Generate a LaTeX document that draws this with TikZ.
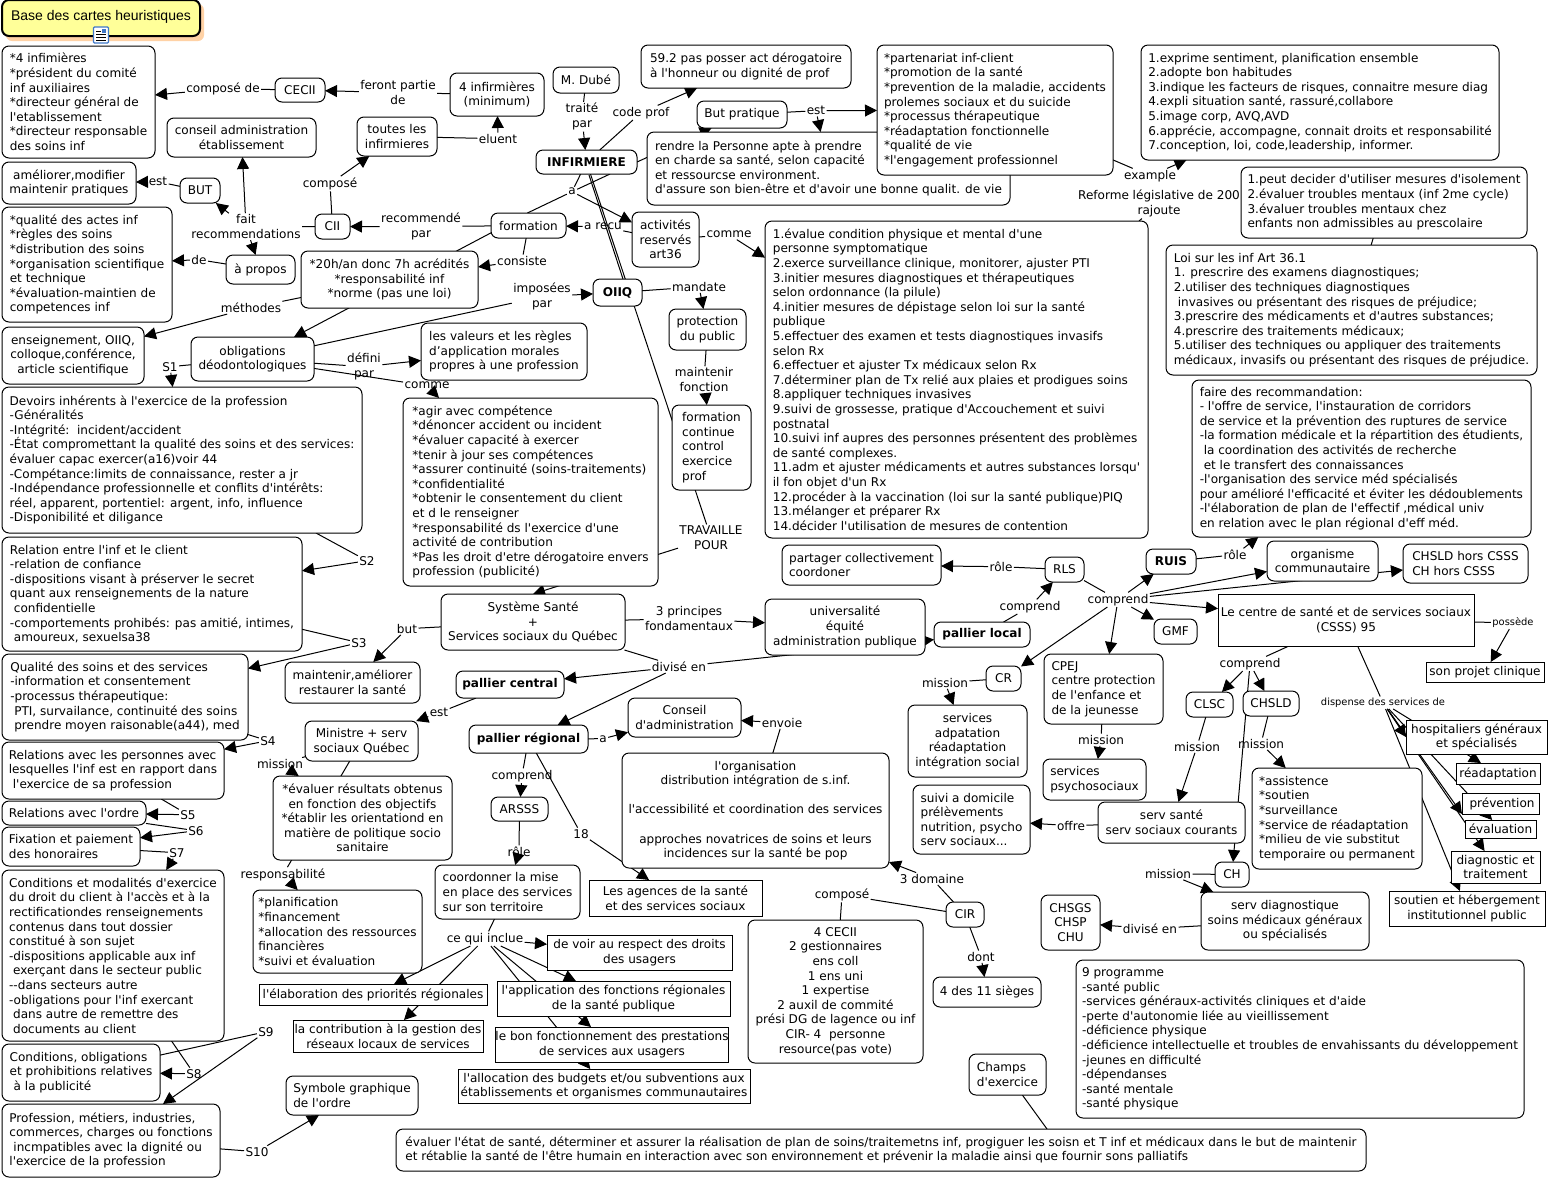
\documentclass[tikz,border=0pt]{standalone}
\usepackage{fontspec}
\usetikzlibrary{arrows.meta,backgrounds}
\newfontfamily\vf{DejaVu Sans}
\newfontfamily\af{Liberation Sans}
\definecolor{titlefill}{HTML}{FFFF99}
\definecolor{titleshadow}{HTML}{FFD2A6}
\definecolor{iconblue}{HTML}{3F78C8}
\tikzset{
  bx/.style n args={4}{at={({(#1+#3)/2},{(#2+#4)/2})},minimum width={#3-#1},minimum height={#4-#2}},
  rb/.style={draw=black,fill=white,line width=1pt,rounded corners=7pt,inner sep=0pt,outer sep=0pt,align=left,font=\vf\fontsize{12.05}{14.6}\selectfont},
  sb/.style={rb,rounded corners=0pt},
  cb/.style={rb,align=center},
  scb/.style={sb,align=center},
  bld/.style={font=\vf\bfseries\fontsize{12.05}{14.6}\selectfont},
  lb/.style={inner sep=1.5pt,outer sep=0pt,align=center,yshift=-0.7pt,font=\vf\fontsize{12.05}{14.6}\selectfont},
  sl/.style={font=\vf\fontsize{9.9}{11.5}\selectfont},
  ln/.style={line width=1pt,draw=black},
  ar/.style={ln,-{Triangle[length=12pt,width=12pt]}}
}
\begin{document}
\begin{tikzpicture}[x=1pt,y=-1pt]
\useasboundingbox (0,0) rectangle (1550,1179);
% ---- title
\fill[titleshadow,rounded corners=6pt] (6,4) rectangle (204,41);
\node[rb,cb,bx={2}{0}{200}{36},line width=2pt,fill=titlefill,font=\af\fontsize{14}{16}\selectfont] (title) {\raisebox{-2pt}[0pt][0pt]{Base des cartes heuristiques}};
\node[draw=iconblue,fill=white,line width=1.2pt,rounded corners=1pt,minimum width=15pt,minimum height=16pt,inner sep=0pt] (icon) at (101,35) {};
\foreach \yy in {-1,2,5}{\draw[line width=.7pt,black] (96,35+\yy) -- (106,35+\yy);}
\draw[line width=.7pt,black] (96,31) -- (101,31);
\fill[iconblue] (102,29) rectangle (106,33);
% ---- boxes
\node[rb,bx={2}{46}{155}{158}] (n4inf) {*4 infimières\\{}*président du comité\\inf auxiliaires\\{}*directeur général de\\l'etablissement\\{}*directeur responsable\\des soins inf};
\node[cb,bx={275}{78}{325}{102}] (cecii) {CECII};
\node[cb,bx={450}{73}{544}{116}] (minim) {4 infirmières\\(minimum)};
\node[cb,bx={167}{118}{316}{157}] (conseil) {conseil administration\\établissement};
\node[cb,bx={357}{117}{437}{156}] (toutes) {toutes les\\infirmieres};
\node[cb,bx={2}{162}{136}{204}] (amelio) {améliorer,modifier\\maintenir pratiques};
\node[cb,bx={180}{178}{220}{203}] (butn) {BUT};
\node[rb,bx={2}{207}{172}{322}] (qualite) {*qualité des actes inf\\{}*règles des soins\\{}*distribution des soins\\{}*organisation scientifique\\et technique\\{}*évaluation-maintien de\\competences inf};
\node[cb,bx={315}{214}{350}{239}] (cii) {CII};
\node[cb,bx={491}{213}{566}{238}] (formation) {formation};
\node[cb,bx={226}{255}{295}{284}] (apropos) {à propos};
\node[cb,bx={301}{251}{478}{308}] (h20) {*20h/an donc 7h acrédités\\{}*responsabilité inf\\{}*norme (pas une loi)};
\node[cb,bx={2}{327}{144}{384}] (ens) {enseignement, OIIQ,\\colloque,conférence,\\article scientifique};
\node[cb,bx={191}{337}{314}{381}] (oblig) {obligations\\déodontologiques};
\node[rb,bx={421}{323}{587}{380}] (valeurs) {les valeurs et les règles\\d’application morales\\propres à une profession};
\node[rb,bx={2}{387}{362}{533}] (devoirs) {Devoirs inhérents à l'exercice de la profession\\-Généralités\\-Intégrité:\ \ incident/accident\\-État compromettant la qualité des soins et des services:\\évaluer capac exercer(a16)voir 44\\-Compétance:limits de connaissance, rester a jr\\-Indépendance professionnelle et conflits d'intérêts:\\réel, apparent, portentiel: argent, info, influence\\-Disponibilité et diligance};
\node[rb,bx={2}{537}{302}{651}] (relation) {Relation entre l'inf et le client\\-relation de confiance\\-dispositions visant à préserver le secret\\quant aux renseignements de la nature\\\hspace*{4pt}confidentielle\\-comportements prohibés: pas amitié, intimes,\\\hspace*{4pt}amoureux, sexuelsa38};
\node[rb,bx={2}{654}{248}{740}] (qsoins) {Qualité des soins et des services\\-information et consentement\\-processus thérapeutique:\\\hspace*{4pt}PTI, survailance, continuité des soins\\\hspace*{4pt}prendre moyen raisonable(a44), med};
\node[rb,bx={2}{742}{224}{799}] (relpers) {Relations avec les personnes avec\\lesquelles l'inf est en rapport dans\\\hspace*{4pt}l'exercice de sa profession};
\node[rb,bx={2}{801}{146}{825}] (ordre) {Relations avec l'ordre};
\node[rb,bx={2}{827}{140}{866}] (fixation) {Fixation et paiement\\des honoraires};
\node[rb,bx={2}{870}{224}{1041}] (condit) {Conditions et modalités d'exercice\\du droit du client à l'accès et à la\\rectificationdes renseignements\\contenus dans tout dossier\\constitué à son sujet\\-dispositions applicable aux inf\\\hspace*{4pt}exerçant dans le secteur public\\--dans secteurs autre\\-obligations pour l'inf exercant\\\hspace*{4pt}dans autre de remettre des\\\hspace*{4pt}documents au client};
\node[rb,bx={2}{1044}{160}{1101}] (condpub) {Conditions, obligations\\et prohibitions relatives\\\hspace*{4pt}à la publicité};
\node[rb,bx={2}{1104}{220}{1177}] (profess) {Profession, métiers, industries,\\commerces, charges ou fonctions\\\hspace*{4pt}incmpatibles avec la dignité ou\\l'exercice de la profession};
\node[cb,bx={553}{67}{619}{93}] (dube) {M. Dubé};
\node[cb,bx={536}{150}{637}{174},bld] (inf) {INFIRMIERE};
\node[rb,bx={641}{45}{851}{88}] (art59) {59.2 pas posser act dérogatoire\\à l'honneur ou dignité de prof};
\node[cb,bx={697}{101}{787}{128}] (butpr) {But pratique};
\node[rb,bx={647}{132}{1010}{205}] (rendre) {rendre la Personne apte à prendre\\en charde sa santé, selon capacité\\et ressourcse environment.\\d'assure son bien-être et d'avoir une bonne qualit. de vie};
\node[cb,bx={632}{212}{699}{267}] (activ) {activités\\reservés\\art36};
\node[cb,bx={593}{279}{642}{306},bld] (oiiq) {OIIQ};
\node[cb,bx={669}{309}{746}{350}] (protec) {protection\\du public};
\node[rb,bx={672}{405}{751}{490}] (formcont) {formation\\continue\\control\\exercice\\prof};
\node[rb,bx={765}{221}{1148}{538}] (list14) {1.évalue condition physique et mental d'une\\personne symptomatique\\2.exerce surveillance clinique, monitorer, ajuster PTI\\3.initier mesures diagnostiques et thérapeutiques\\selon ordonnance (la pilule)\\4.initier mesures de dépistage selon loi sur la santé\\publique\\5.effectuer des examen et tests diagnostiques invasifs\\selon Rx\\6.effectuer et ajuster Tx médicaux selon Rx\\7.déterminer plan de Tx relié aux plaies et prodigues soins\\8.appliquer techniques invasives\\9.suivi de grossesse, pratique d'Accouchement et suivi\\postnatal\\10.suivi inf aupres des personnes présentent des problèmes\\de santé complexes.\\11.adm et ajuster médicaments et autres substances lorsqu'\\il fon objet d'un Rx\\12.procéder à la vaccination (loi sur la santé publique)PIQ\\13.mélanger et préparer Rx\\14.décider l'utilisation de mesures de contention};
\node[rb,bx={403}{398}{658}{586}] (agir) {*agir avec compétence\\{}*dénoncer accident ou incident\\{}*évaluer capacité à exercer\\{}*tenir à jour ses compétences\\{}*assurer continuité (soins-traitements)\\{}*confidentialité\\{}*obtenir le consentement du client\\et d le renseigner\\{}*responsabilité ds l'exercice d'une\\activité de contribution\\{}*Pas les droit d'etre dérogatoire envers\\profession (publicité)};
\node[cb,bx={441}{594}{625}{650}] (systeme) {Système Santé\\+\\Services sociaux du Québec};
\node[cb,bx={765}{599}{925}{655}] (univ) {universalité\\équité\\administration publique};
\node[rb,bx={877}{45}{1113}{175}] (parten) {*partenariat inf-client\\{}*promotion de la santé\\{}*prevention de la maladie, accidents\\prolemes sociaux et du suicide\\{}*processus thérapeutique\\{}*réadaptation fonctionnelle\\{}*qualité de vie\\{}*l'engagement professionnel};
\node[rb,bx={1141}{45}{1499}{160}] (exprime) {1.exprime sentiment, planification ensemble\\2.adopte bon habitudes\\3.indique les facteurs de risques, connaitre mesure diag\\4.expli situation santé, rassuré,collabore\\5.image corp, AVQ,AVD\\6.apprécie, accompagne, connait droits et responsabilité\\7.conception, loi, code,leadership, informer.};
\node[rb,bx={1241}{167}{1527}{238}] (peut) {1.peut decider d'utiliser mesures d'isolement\\2.évaluer troubles mentaux (inf 2me cycle)\\3.évaluer troubles mentaux chez\\enfants non admissibles au prescolaire};
\node[rb,bx={1166}{245}{1537}{375}] (loi) {Loi sur les inf Art 36.1\\1. prescrire des examens diagnostiques;\\2.utiliser des techniques diagnostiques\\\hspace*{4pt}invasives ou présentant des risques de préjudice;\\3.prescrire des médicaments et d'autres substances;\\4.prescrire des traitements médicaux;\\5.utiliser des techniques ou appliquer des traitements\\médicaux, invasifs ou présentant des risques de préjudice.};
\node[rb,bx={1192}{380}{1531}{537}] (faire) {faire des recommandation:\\- l'offre de service, l'instauration de corridors\\de service et la prévention des ruptures de service\\-la formation médicale et la répartition des étudients,\\\hspace*{4pt}la coordination des activités de recherche\\\hspace*{4pt}et le transfert des connaissances\\-l'organisation des service méd spécialisés\\pour amélioré l'efficacité et éviter les dédoublements\\-l'élaboration de plan de l'effectif ,médical univ\\en relation avec le plan régional d'eff méd.};
\node[rb,bx={782}{545}{941}{585}] (partager) {partager collectivement\\coordoner};
\node[cb,bx={1045}{557}{1084}{582}] (rls) {RLS};
\node[cb,bx={1146}{549}{1196}{574},bld] (ruis) {RUIS};
\node[cb,bx={1267}{541}{1378}{581}] (organ) {organisme\\communautaire};
\node[rb,bx={1403}{544}{1528}{583}] (hors) {CHSLD hors CSSS\\CH hors CSSS};
\node[scb,bx={1218}{594}{1474}{646}] (csss) {Le centre de santé et de services sociaux\\(CSSS) 95};
\node[cb,bx={1154}{619}{1197}{644}] (gmf) {GMF};
\node[cb,bx={934}{622}{1030}{647},bld] (local) {pallier local};
\node[cb,bx={986}{666}{1021}{691}] (cr) {CR};
\node[rb,bx={1044}{654}{1163}{724}] (cpej) {CPEJ\\centre protection\\de l'enfance et\\de la jeunesse};
\node[cb,bx={908}{705}{1027}{777}] (adapt) {services\\adpatation\\réadaptation\\intégration social};
\node[rb,bx={1043}{759}{1146}{800}] (psycho) {services\\psychosociaux};
\node[cb,bx={1186}{692}{1233}{717}] (clsc) {CLSC};
\node[cb,bx={1243}{691}{1299}{716}] (chsld) {CHSLD};
\node[scb,bx={1426}{662}{1544}{682}] (projet) {son projet clinique};
\node[scb,bx={1406}{720}{1547}{754}] (hosp) {hospitaliers généraux\\et spécialisés};
\node[scb,bx={1456}{763}{1540}{784}] (readapt) {réadaptation};
\node[scb,bx={1462}{793}{1539}{814}] (prevent) {\hspace*{3pt}prévention};
\node[scb,bx={1465}{820}{1536}{838}] (evalu) {évaluation};
\node[scb,bx={1451}{851}{1540}{883}] (diagn) {diagnostic et\\traitement};
\node[scb,bx={1389}{891}{1545}{926}] (soutien) {soutien et hébergement\\institutionnel public};
\node[rb,bx={1252}{768}{1422}{869}] (assist) {*assistence\\{}*soutien\\{}*surveillance\\{}*service de réadaptation\\{}*milieu de vie substitut\\temporaire ou permanent};
\node[rb,bx={913}{785}{1030}{854}] (suivi) {suivi a domicile\\prélèvements\\nutrition, psycho\\serv sociaux...};
\node[cb,bx={1098}{802}{1245}{843}] (sante) {serv santé\\serv sociaux courants};
\node[cb,bx={1215}{862}{1249}{887}] (chn) {CH};
\node[cb,bx={1201}{892}{1369}{950}] (diags) {serv diagnostique\\soins médicaux généraux\\ou spécialisés};
\node[cb,bx={1041}{895}{1100}{950}] (chsgs) {CHSGS\\CHSP\\CHU};
\node[cb,bx={456}{671}{564}{698},bld] (central) {pallier central};
\node[cb,bx={469}{725}{588}{753},bld] (regional) {pallier régional};
\node[cb,bx={628}{698}{741}{737}] (conadm) {Conseil\\d'administration};
\node[cb,bx={305}{721}{418}{761}] (ministre) {Ministre + serv\\sociaux Québec};
\node[cb,bx={285}{662}{420}{703}] (mainten) {maintenir,améliorer\\restaurer la santé};
\node[cb,bx={273}{776}{452}{860}] (evaluer) {*évaluer résultats obtenus\\en fonction des objectifs\\{}*établir les orientationd en\\matière de politique socio\\sanitaire};
\node[cb,bx={622}{753}{889}{868}] (organis) {l'organisation\\distribution intégration de s.inf.\\\mbox{}\\l'accessibilité et coordination des services\\\mbox{}\\approches novatrices de soins et leurs\\incidences sur la santé be pop};
\node[cb,bx={491}{797}{548}{821}] (arsss) {ARSSS};
\node[rb,bx={435}{865}{580}{919}] (coord) {coordonner la mise\\en place des services\\sur son territoire};
\node[scb,bx={589}{880}{762}{916}] (agences) {Les agences de la santé\\et des services sociaux};
\node[cb,bx={946}{902}{984}{927}] (cir) {CIR};
\node[rb,bx={253}{890}{422}{973}] (plan) {*planification\\{}*financement\\{}*allocation des ressources\\financières\\{}*suivi et évaluation};
\node[cb,bx={748}{920}{923}{1063}] (cec4) {4 CECII\\2 gestionnaires\\ens coll\\1 ens uni\\1 expertise\\2 auxil de commité\\prési DG de lagence ou inf\\CIR- 4\ \ personne\\resource(pas vote)};
\node[cb,bx={933}{977}{1041}{1007}] (sieges) {4 des 11 sièges};
\node[scb,bx={547}{935}{732}{970}] (voir) {de voir au respect des droits\\des usagers};
\node[scb,bx={259}{984}{487}{1005}] (elabor) {l'élaboration des priorités régionales};
\node[scb,bx={497}{981}{730}{1016}] (applic) {l'application des fonctions régionales\\de la santé publique};
\node[scb,bx={293}{1020}{483}{1052}] (contrib) {la contribution à la gestion des\\réseaux locaux de services};
\node[scb,bx={497}{1027}{727}{1062}] (bonf) {le bon fonctionnement des prestations\\de services aux usagers};
\node[scb,bx={458}{1069}{750}{1103}] (alloc) {l'allocation des budgets et/ou subventions aux\\établissements et organismes communautaires};
\node[rb,bx={1076}{960}{1524}{1118}] (progr) {9 programme\\-santé public\\-services généraux-activités cliniques et d'aide\\-perte d'autonomie liée au vieillissement\\-déficience physique\\-déficience intellectuelle et troubles de envahissants du développement\\-jeunes en difficulté\\-dépendanses\\-santé mentale\\-santé physique};
\node[rb,bx={969}{1054}{1046}{1095}] (champs) {Champs\\d'exercice};
\node[rb,bx={396}{1129}{1366}{1171}] (etat) {évaluer l'état de santé, déterminer et assurer la réalisation de plan de soins/traitemetns inf, progiguer les soisn et T inf et médicaux dans le but de maintenir\\et rétablie la santé de l'être humain en interaction avec son environnement et prévenir la maladie ainsi que fournir sons palliatifs};
\node[rb,bx={286}{1076}{418}{1115}] (symbole) {Symbole graphique\\de l'ordre};
% ---- labels
\node[lb] (lcomp) at (223,88) {composé de};
\node[lb] (lferont) at (398,92) {feront partie\\de};
\node[lb] (leluent) at (498,138) {eluent};
\node[lb] (ltraite) at (582,116) {traité\\par};
\node[lb] (lcode) at (641,112) {code prof};
\node[lb] (lest1) at (816,110) {est};
\node[lb] (la1) at (572,191) {a};
\node[lb] (larecu) at (603,226) {a recu};
\node[lb] (lcomme1) at (729,234) {comme};
\node[lb] (lcompose) at (330,183) {composé};
\node[lb] (lrecom) at (421,226) {recommendé\\par};
\node[lb] (lfait) at (246,226) {fait\\recommendations};
\node[lb] (lest2) at (158,181) {est};
\node[lb] (lde) at (199,259) {de};
\node[lb] (lcons) at (522,260) {consiste};
\node[lb] (lmeth) at (251,307) {méthodes};
\node[lb] (limpo) at (542,296) {imposées\\par};
\node[lb] (lmand) at (699,286) {mandate};
\node[lb] (lmaint) at (704,379) {maintenir\\fonction};
\node[lb] (ls1) at (170,366) {S1};
\node[lb] (ldef) at (364,366) {défini\\par};
\node[lb] (lcomme2) at (427,385) {comme};
\node[lb] (ls2) at (367,560) {S2};
\node[lb] (ls3) at (359,642) {S3};
\node[lb] (ls4) at (268,740) {S4};
\node[lb] (ls5) at (188,814) {S5};
\node[lb] (ls6) at (196,830) {S6};
\node[lb] (ls7) at (177,852) {S7};
\node[lb] (ls8) at (194,1073) {S8};
\node[lb] (ls9) at (266,1031) {S9};
\node[lb] (ls10) at (257,1151) {S10};
\node[lb] (lbut) at (407,628) {but};
\node[lb] (ltrois) at (689,618) {3 principes\\fondamentaux};
\node[lb] (ldiv) at (679,666) {divisé en};
\node[lb] (lest3) at (439,712) {est};
\node[lb] (la2) at (603,738) {a};
\node[lb] (lenv) at (782,722) {envoie};
\node[lb] (lcompr1) at (522,775) {comprend};
\node[lb] (l18) at (581,833) {18};
\node[lb] (lrole1) at (519,851) {rôle};
\node[lb] (lmiss1) at (280,763) {mission};
\node[lb] (lresp) at (283,874) {responsabilité};
\node[lb] (lceq) at (485,938) {ce qui inclue};
\node[lb] (lcompo2) at (842,894) {composé};
\node[lb] (l3d) at (932,878) {3 domaine};
\node[lb] (ldont) at (981,956) {dont};
\node[lb] (ldiv2) at (1150,928) {divisé en};
\node[lb] (lmiss2) at (1168,873) {mission};
\node[lb] (loffre) at (1071,825) {offre};
\node[lb] (lmiss3) at (1101,739) {mission};
\node[lb] (lmiss4) at (1197,746) {mission};
\node[lb] (lmiss5) at (1261,743) {mission};
\node[lb] (lcompr2) at (1250,663) {comprend};
\node[lb,sl] (lposs) at (1513,622) {possède};
\node[lb,sl] (ldisp) at (1383,702) {dispense des services de};
\node[lb] (lcompr3) at (1118,599) {comprend};
\node[lb] (lrole2) at (1235,554) {rôle};
\node[lb] (lrole3) at (1001,566) {rôle};
\node[lb] (lcompr4) at (1030,606) {comprend};
\node[lb] (lmiss6) at (945,682) {mission};
\node[lb] (ltrav) at (711,537) {TRAVAILLE\\POUR};
\node[lb] (lex) at (1150,175) {example};
\node[lb] (lref) at (1159,203) {Reforme législative de 200\\rajoute};
% ---- free ends
\coordinate (qstart) at (589,175);
\coordinate (qend) at (623,279);
\coordinate (etatpt) at (1047,1129);
\begin{pgfonlayer}{background}
\fill[white] (0,0) rectangle (1550,1179);
\draw[ln] (cecii) -- (lcomp); \draw[ar] (lcomp) -- (n4inf);
\draw[ln] (minim) -- (lferont); \draw[ar] (lferont) -- (cecii);
\draw[ln] (toutes) -- (leluent); \draw[ar] (leluent) -- (minim);
\draw[ln] (cii) -- (lcompose); \draw[ar] (lcompose) -- (toutes);
\draw[ln] (formation) -- (lrecom); \draw[ar] (lrecom) -- (cii);
\draw[ln] (cii) -- (lfait); \draw[ar] (lfait) -- (conseil); \draw[ar] (lfait) -- (butn); \draw[ar] (lfait) -- (apropos);
\draw[ln] (butn) -- (lest2); \draw[ar] (lest2) -- (amelio);
\draw[ln] (apropos) -- (lde); \draw[ar] (lde) -- (qualite);
\draw[ln] (h20) -- (lmeth); \draw[ar] (lmeth) -- (ens);
\draw[ar] (formation.north) -- (oblig);
\draw[ln] (formation) -- (lcons); \draw[ar] (lcons) -- (h20);
\draw[ln] (oblig) -- (limpo); \draw[ar] (limpo) -- (oiiq);
\draw[ln] (oblig) -- (ldef); \draw[ar] (ldef) -- (valeurs);
\draw[ln] (oblig) -- (lcomme2); \draw[ar] (lcomme2) -- (agir);
\draw[ln] (oblig) -- (ls1); \draw[ar] (ls1) -- (devoirs);
\draw[ln] (devoirs) -- (ls2); \draw[ar] (ls2) -- (relation);
\draw[ln] (relation) -- (ls3); \draw[ar] (ls3) -- (qsoins);
\draw[ln] (qsoins) -- (ls4); \draw[ar] (ls4) -- (relpers);
\draw[ln] (relpers) -- (ls5); \draw[ar] (ls5) -- (ordre);
\draw[ln] (ordre) -- (ls6); \draw[ar] (ls6) -- (fixation);
\draw[ln] (fixation) -- (ls7); \draw[ar] (ls7) -- (condit);
\draw[ln] (condit) -- (ls8); \draw[ar] (ls8) -- (condpub);
\draw[ln] (condpub) -- (ls9); \draw[ar] (ls9) -- (profess);
\draw[ln] (profess) -- (ls10); \draw[ar] (ls10) -- (symbole);
\draw[ln] (dube) -- (ltraite); \draw[ar] (ltraite) -- (inf);
\draw[ln] (inf) -- (lcode); \draw[ar] (lcode) -- (art59);
\draw[ar] (inf.east) -- (butpr.-156);
\draw[ln] (butpr) -- (lest1); \draw[ar] (lest1) -- (parten); \draw[ar] (lest1) -- (rendre);
\draw[ln] (inf) -- (la1); \draw[ar] (la1) -- (activ);
\draw[ln] (inf.-27) -- (la1) -- (formation.95);
\draw[ln] (activ) -- (larecu); \draw[ar] (larecu) -- (formation);
\draw[ln] (activ) -- (lcomme1); \draw[ar] (lcomme1) -- (list14);
\draw[ln] (inf) -- (ltrav);
\draw[ln] (qstart) -- (qend);
\draw[ar] (ltrav) -- (systeme.north);
\draw[ln] (oiiq) -- (lmand); \draw[ar] (lmand) -- (protec);
\draw[ln] (protec) -- (lmaint); \draw[ar] (lmaint) -- (formcont);
\draw[ln] (parten) -- (lex); \draw[ar] (lex) -- (exprime);
\draw[ln] (list14) -- (lref);
\draw[ln] (peut) -- (loi);
\draw[ln] (systeme) -- (lbut); \draw[ar] (lbut) -- (mainten);
\draw[ln] (systeme) -- (ltrois); \draw[ar] (ltrois) -- (univ);
\draw[ln] (systeme) -- (ldiv); \draw[ar] (ldiv) -- (central); \draw[ar] (ldiv) -- (regional); \draw[ar] (ldiv) -- (local);
\draw[ln] (central) -- (lest3); \draw[ar] (lest3) -- (ministre);
\draw[ln] (ministre) -- (lmiss1); \draw[ar] (lmiss1) -- (evaluer);
\draw[ln] (ministre) -- (lresp); \draw[ar] (lresp) -- (plan);
\draw[ln] (regional) -- (la2); \draw[ar] (la2) -- (conadm);
\draw[ln] (organis) -- (lenv); \draw[ar] (lenv) -- (conadm);
\draw[ln] (regional) -- (lcompr1); \draw[ar] (lcompr1) -- (arsss);
\draw[ln] (regional) -- (l18); \draw[ar] (l18) -- (agences);
\draw[ln] (arsss) -- (lrole1); \draw[ar] (lrole1) -- (coord);
\draw[ln] (coord) -- (lceq);
\draw[ar] (lceq) -- (voir); \draw[ar] (lceq) -- (elabor); \draw[ar] (lceq) -- (contrib); \draw[ar] (lceq) -- (applic); \draw[ar] (lceq) -- (bonf); \draw[ar] (lceq) -- (alloc);
\draw[ln] (cir) -- (lcompo2); \draw[ln] (lcompo2) -- (cec4);
\draw[ln] (cir) -- (l3d); \draw[ar] (l3d) -- (organis);
\draw[ln] (cir) -- (ldont); \draw[ar] (ldont) -- (sieges);
\draw[ln] (local) -- (lcompr4); \draw[ar] (lcompr4) -- (rls);
\draw[ln] (rls) -- (lrole3); \draw[ar] (lrole3) -- (partager);
\draw[ln] (rls) -- (lcompr3);
\draw[ar] (lcompr3) -- (ruis); \draw[ar] (lcompr3) -- (gmf); \draw[ar] (lcompr3) -- (csss); \draw[ar] (lcompr3) -- (organ); \draw[ar] (lcompr3) -- (hors); \draw[ar] (lcompr3) -- (cpej); \draw[ar] (lcompr3) -- (cr);
\draw[ln] (ruis) -- (lrole2); \draw[ar] (lrole2) -- (faire);
\draw[ln] (cr) -- (lmiss6); \draw[ar] (lmiss6) -- (adapt);
\draw[ln] (cpej) -- (lmiss3); \draw[ar] (lmiss3) -- (psycho);
\draw[ln] (csss) -- (lcompr2); \draw[ar] (lcompr2) -- (clsc); \draw[ar] (lcompr2) -- (chsld); \draw[ar] (lcompr2) -- (chn);
\draw[ln] (clsc) -- (lmiss4); \draw[ar] (lmiss4) -- (sante);
\draw[ln] (chsld) -- (lmiss5); \draw[ar] (lmiss5) -- (assist);
\draw[ln] (sante) -- (loffre); \draw[ar] (loffre) -- (suivi);
\draw[ln] (chn) -- (lmiss2); \draw[ar] (lmiss2) -- (diags);
\draw[ln] (diags) -- (ldiv2); \draw[ar] (ldiv2) -- (chsgs);
\draw[ln] (csss) -- (lposs); \draw[ar] (lposs) -- (projet);
\draw[ln] (csss) -- (ldisp);
\draw[ar] (ldisp) -- (hosp.west); \draw[ar] (ldisp) -- (readapt); \draw[ar] (ldisp) -- (prevent.south west); \draw[ar] (ldisp) -- (evalu); \draw[ar] (ldisp) -- (diagn); \draw[ar] (ldisp) -- (soutien);
\draw[ln] (champs) -- (etatpt);
\end{pgfonlayer}
\end{tikzpicture}
\end{document}
